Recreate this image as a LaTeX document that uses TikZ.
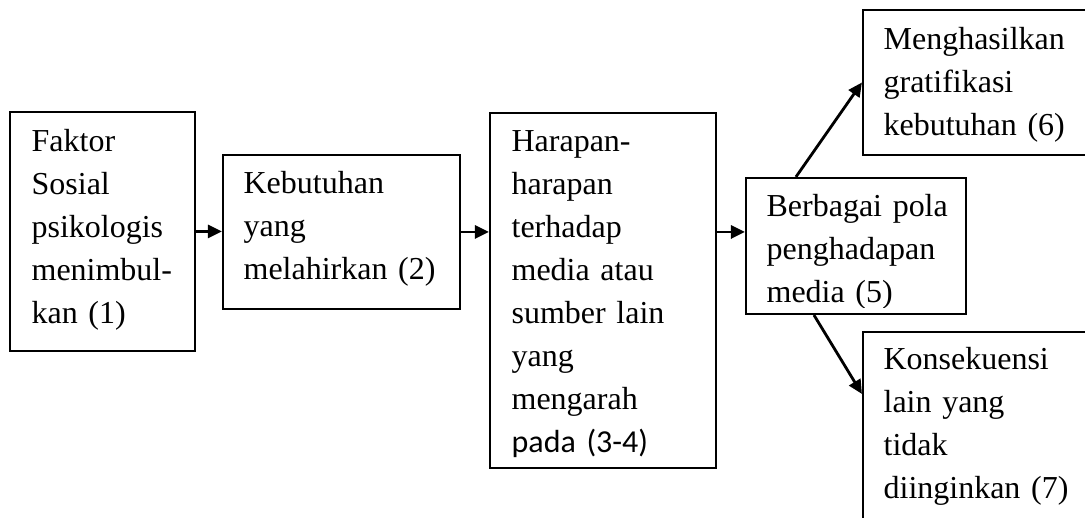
\documentclass[tikz,border=0pt]{standalone}
\usepackage{fontspec}
\setmainfont{Liberation Serif}
\newfontfamily\calibri{Carlito}
\usetikzlibrary{arrows.meta}

\tikzset{
  kotak/.style={draw, line width=0.6pt, inner sep=0pt},
  isi/.style={anchor=base west, text width=2.2cm, align=left, inner sep=0pt,
    font=\fontsize{9.1pt}{12.2pt}\selectfont},
  panah/.style={line width=0.8pt, -{Triangle[length=0.14cm,width=0.13cm]}}
}

\begin{document}
\begin{tikzpicture}

    \clip (0,0) rectangle (10.85,5.18);

    % Kotak-kotak
    \node[kotak, minimum width=1.85cm, minimum height=2.39cm] (faktor) at (1.025,2.865) {};
    \node[kotak, minimum width=2.37cm, minimum height=1.54cm] (kebutuhan) at (3.415,2.86) {};
    \node[kotak, minimum width=2.26cm, minimum height=3.55cm] (harapan) at (6.03,2.275) {};
    \node[kotak, minimum width=2.20cm, minimum height=1.36cm] (pola) at (8.56,2.72) {};
    \node[kotak, minimum width=2.37cm, minimum height=1.45cm] (gratifikasi) at (9.815,4.355) {};
    \node[kotak, minimum width=2.37cm, minimum height=1.92cm] (konsekuensi) at (9.815,0.90) {};

    % Teks
    \node[isi] (tfaktor) at ([shift={(0.22,-0.41)}]faktor.north west)
      {Faktor\\ Sosial\\ psikologis\\ menimbul-\\ kan (1)};
    \node[isi] (tkebutuhan) at ([shift={(0.21,-0.40)}]kebutuhan.north west)
      {Kebutuhan\\ yang\\ melahirkan (2)};
    \node[isi] (tharapan) at ([shift={(0.22,-0.40)}]harapan.north west)
      {Harapan-\\ harapan\\ terhadap\\ media atau\\ sumber lain\\ yang\\ mengarah\\
       {\calibri pada (3-4)}};
    \begin{scope}
      \clip ([yshift=0.08cm]pola.south west) rectangle (pola.north east);
      \node[isi] (tpola) at ([shift={(0.21,-0.40)}]pola.north west)
        {Berbagai pola\\ penghadapan\\ media (5)};
    \end{scope}
    \node[isi] (tgratifikasi) at ([shift={(0.21,-0.41)}]gratifikasi.north west)
      {Menghasilkan\\ gratifikasi\\ kebutuhan (6)};
    \node[isi] (tkonsekuensi) at ([shift={(0.21,-0.39)}]konsekuensi.north west)
      {Konsekuensi\\ lain yang\\ tidak\\ diinginkan (7)};

    % Panah
    \draw[panah] (faktor.east) -- (faktor.east -| kebutuhan.west);
    \draw[panah] (kebutuhan.east) -- (kebutuhan.east -| harapan.west);
    \draw[panah] (kebutuhan.east -| harapan.east) -- (kebutuhan.east -| pola.west);
    \draw[panah] ([xshift=0.51cm]pola.north west) -- (gratifikasi.west);
    \draw[panah] ([xshift=0.69cm]pola.south west) -- ([yshift=-0.63cm]konsekuensi.north west);

\end{tikzpicture}
\end{document}
